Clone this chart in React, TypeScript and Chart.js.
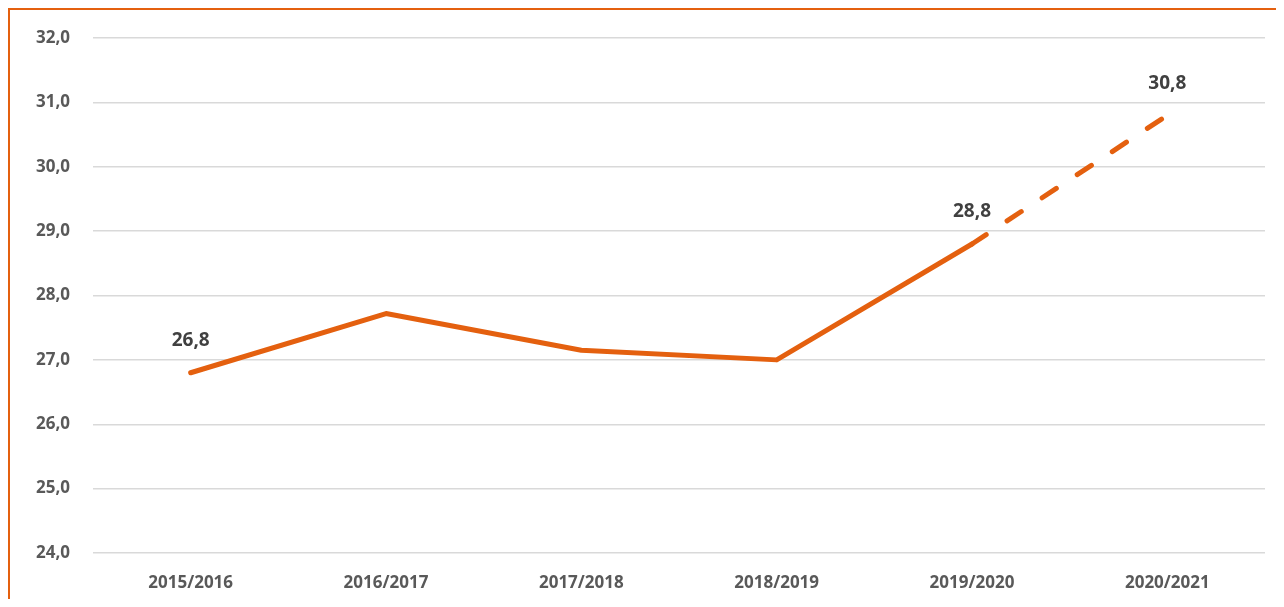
import React, { useEffect, useRef } from "react";
import { Chart, registerables } from "chart.js";

Chart.register(...registerables);

const categories = ["2015/2016", "2016/2017", "2017/2018", "2018/2019", "2019/2020", "2020/2021"];
const values = [26.8, 27.72, 27.15, 27.0, 28.8, 30.8];
const labelledIndexes = [0, 4, 5];
const yMin = 24;
const yMax = 32;

const ORANGE = "#E4600F";
const FONT = "'Open Sans', 'DejaVu Sans', sans-serif";

const fmt = (v: number, d: number) => v.toFixed(d).replace(".", ",");

export default function App() {
  const ref = useRef<HTMLCanvasElement | null>(null);
  useEffect(() => {
    if (!ref.current) return;
    const labelPlugin = {
      id: "pointLabels",
      afterDatasetsDraw(chart: any) {
        const ctx = chart.ctx;
        const meta = chart.getDatasetMeta(0);
        ctx.save();
        ctx.font = `700 19px ${FONT}`;
        ctx.fillStyle = "#404040";
        ctx.textAlign = "center";
        ctx.textBaseline = "middle";
        labelledIndexes.forEach((i) => {
          const p = meta.data[i];
          ctx.fillText(fmt(values[i], 1), p.x, p.y - 32);
        });
        ctx.restore();
      },
    };
    const chart = new Chart(ref.current, {
      type: "line",
      data: {
        labels: categories,
        datasets: [
          {
            data: values,
            borderColor: ORANGE,
            borderWidth: 5,
            borderCapStyle: "round",
            borderJoinStyle: "round",
            pointRadius: 0,
            tension: 0,
            segment: {
              borderDash: (c: any) => (c.p0DataIndex === 4 ? [17, 25] : undefined),
            },
          },
        ],
      },
      options: {
        animation: false,
        responsive: false,
        maintainAspectRatio: false,
        layout: { padding: { left: 0, right: 19, top: 28, bottom: 0 } },
        plugins: { legend: { display: false }, tooltip: { enabled: false } },
        scales: {
          x: {
            offset: true,
            grid: { display: false, drawTicks: false },
            border: { display: false },
            ticks: {
              padding: 20,
              color: "#595959",
              font: { family: FONT, size: 17, weight: "bold" },
            },
            afterFit: (s: any) => {
              s.height = 46;
              s.paddingLeft = 0;
              s.paddingRight = 0;
            },
          },
          y: {
            min: yMin,
            max: yMax,
            grid: { color: "#D9D9D9", lineWidth: 1.5, drawTicks: false },
            border: { display: false },
            ticks: {
              stepSize: 1,
              padding: 23,
              color: "#595959",
              font: { family: FONT, size: 17, weight: "bold" },
              callback: (v: any) => fmt(Number(v), 1),
            },
            afterFit: (s: any) => {
              s.width = 83;
              s.paddingTop = 0;
              s.paddingBottom = 0;
            },
          },
        },
      },
      plugins: [labelPlugin],
    } as any);
    return () => chart.destroy();
  }, []);
  return (
    <div
      style={{
        width: 1276,
        height: 591,
        boxSizing: "border-box",
        borderLeft: `2px solid ${ORANGE}`,
        borderTop: `2px solid ${ORANGE}`,
        overflow: "hidden",
      }}
    >
      <canvas ref={ref} width={1274} height={589} style={{ display: "block" }} />
    </div>
  );
}
